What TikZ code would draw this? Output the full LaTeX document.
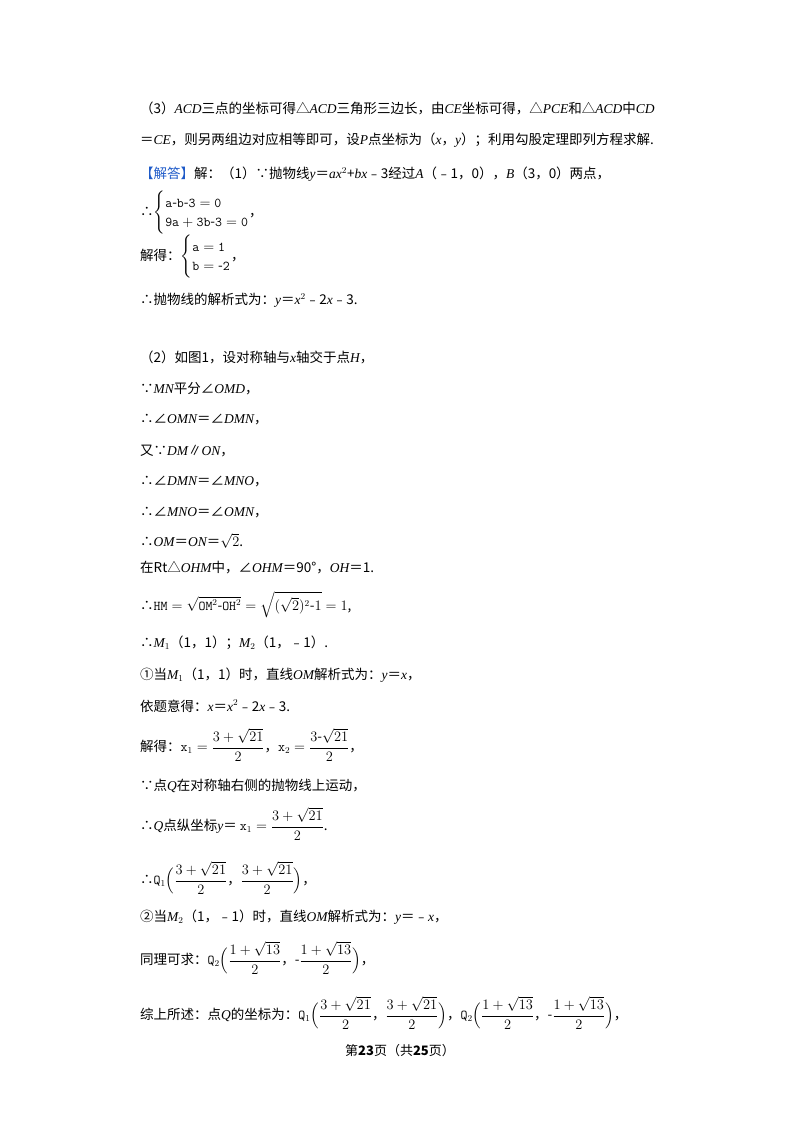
\documentclass[tikz,border=0pt]{standalone}
\usepackage{amsmath}
\usepackage{fontspec}
\setmainfont{Noto Sans CJK SC}
\newfontfamily\lserif{Liberation Serif}
\newcommand\vv[1]{{\lserif\itshape #1}}
\newcommand\nn[1]{{\lserif #1}}
\begin{document}
\begin{tikzpicture}[x=1pt,y=1pt,
  t/.style={anchor=west,inner sep=0pt,font=\fontsize{13.5}{18}\selectfont}]
\useasboundingbox (0,0) rectangle (800,-1132);
\node[t] (l1) at (140,-108) {（3）\vv{ACD}三点的坐标可得△\vv{ACD}三角形三边长，由\vv{CE}坐标可得，△\vv{PCE}和△\vv{ACD}中\vv{CD}};
\node[t] (l2) at (140,-140) {＝\vv{CE}，则另两组边对应相等即可，设\vv{P}点坐标为（\vv{x}，\vv{y}）；利用勾股定理即列方程求解.};
\node[t] (l3) at (140,-174) {\textcolor[RGB]{30,90,200}{【解答】}解：（1）∵抛物线\vv{y}＝\vv{ax}$^2$+\vv{bx}﹣3经过\vv{A}（﹣1，0），\vv{B}（3，0）两点，};
\node[t] (l4) at (140,-213) {∴$\left\{\renewcommand\arraystretch{1.1}\begin{array}{@{}l@{}}\mathtt{a\text{-}b\text{-}3=0}\\ \mathtt{9a+3b\text{-}3=0}\end{array}\right.$，};
\node[t] (l5) at (140,-257) {解得：$\left\{\renewcommand\arraystretch{1.1}\begin{array}{@{}l@{}}\mathtt{a=1}\\ \mathtt{b=\text{-}2}\end{array}\right.$，};
\node[t] (l6) at (140,-300) {∴抛物线的解析式为：\vv{y}＝\vv{x}$^2$﹣2\vv{x}﹣3.};
\node[t] (l7) at (140,-357) {（2）如图1，设对称轴与\vv{x}轴交于点\vv{H}，};
\node[t] (l8) at (140,-389) {∵\vv{MN}平分∠\vv{OMD}，};
\node[t] (l9) at (140,-420) {∴∠\vv{OMN}＝∠\vv{DMN}，};
\node[t] (l10) at (140,-451) {又∵\vv{DM}∥\vv{ON}，};
\node[t] (l11) at (140,-482) {∴∠\vv{DMN}＝∠\vv{MNO}，};
\node[t] (l12) at (140,-513) {∴∠\vv{MNO}＝∠\vv{OMN}，};
\node[t] (l13) at (140,-541) {∴\vv{OM}＝\vv{ON}＝$\sqrt{2}$.};
\node[t] (l14) at (140,-568) {在Rt△\vv{OHM}中，∠\vv{OHM}＝90°，\vv{OH}＝1.};
\node[t] (l15) at (140,-605) {∴$\mathtt{HM}=\sqrt{\mathtt{OM}^2\text{-}\mathtt{OH}^2}=\sqrt{(\sqrt{2})^2\text{-}1}=1$,};
\node[t] (l16) at (140,-643) {∴\vv{M}$_1$（1，1）；\vv{M}$_2$（1，﹣1）.};
\node[t] (l17) at (140,-675) {①当\vv{M}$_1$（1，1）时，直线\vv{OM}解析式为：\vv{y}＝\vv{x}，};
\node[t] (l18) at (140,-706) {依题意得：\vv{x}＝\vv{x}$^2$﹣2\vv{x}﹣3.};
\node[t] (l19) at (140,-745) {解得：$\mathtt{x}_1=\dfrac{3+\sqrt{21}}{2}$，$\mathtt{x}_2=\dfrac{3\text{-}\sqrt{21}}{2}$，};
\node[t] (l20) at (140,-786) {∵点\vv{Q}在对称轴右侧的抛物线上运动，};
\node[t] (l21) at (140,-824) {∴\vv{Q}点纵坐标\vv{y}＝ $\mathtt{x}_1=\dfrac{3+\sqrt{21}}{2}$.};
\node[t] (l22) at (140,-878) {∴$\mathtt{Q}_1\Big(\dfrac{3+\sqrt{21}}{2}$，$\dfrac{3+\sqrt{21}}{2}\Big)$，};
\node[t] (l23) at (140,-917) {②当\vv{M}$_2$（1，﹣1）时，直线\vv{OM}解析式为：\vv{y}＝﹣\vv{x}，};
\node[t] (l24) at (140,-958) {同理可求：$\mathtt{Q}_2\Big(\dfrac{1+\sqrt{13}}{2}$，$\text{-}\dfrac{1+\sqrt{13}}{2}\Big)$，};
\node[t] (l25) at (140,-1013) {综上所述：点\vv{Q}的坐标为：$\mathtt{Q}_1\Big(\dfrac{3+\sqrt{21}}{2}$，$\dfrac{3+\sqrt{21}}{2}\Big)$，$\mathtt{Q}_2\Big(\dfrac{1+\sqrt{13}}{2}$，$\text{-}\dfrac{1+\sqrt{13}}{2}\Big)$，};
\node[inner sep=0pt,font=\fontsize{13}{16}\selectfont] (ft) at (400,-1051) {第\textbf{23}页（共\textbf{25}页）};
\end{tikzpicture}
\end{document}
